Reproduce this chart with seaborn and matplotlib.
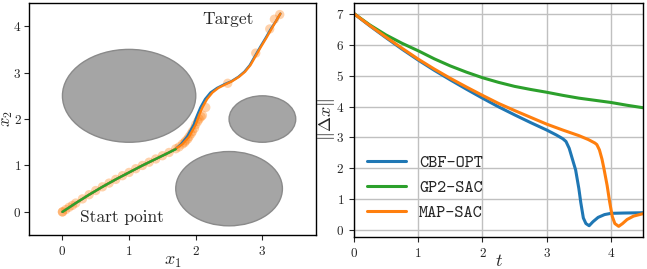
import numpy as np
import pandas as pd
import matplotlib
matplotlib.use("Agg")
import matplotlib.pyplot as plt
from matplotlib.patches import Ellipse
import seaborn as sns

# obstacles: centre x, centre y, radius
obs_x = [1.0, 2.5, 3.0]
obs_y = [2.5, 0.5, 2.0]
obs_r = [1.0, 0.8, 0.5]

# trajectories in the plane
traj_orange_x = [0.0, 0.2, 0.4, 0.6, 0.8, 1.0, 1.2, 1.4, 1.6, 1.7, 1.8, 1.9, 2.0, 2.05, 2.1,
                 2.17, 2.25, 2.34, 2.45, 2.54, 2.65, 2.74, 2.82, 2.9, 2.98, 3.06, 3.14, 3.2, 3.27]
traj_orange_y = [0.0, 0.19, 0.37, 0.54, 0.70, 0.85, 1.0, 1.14, 1.28, 1.36, 1.46, 1.62, 1.88, 2.08, 2.25,
                 2.43, 2.57, 2.67, 2.75, 2.81, 2.91, 3.02, 3.16, 3.36, 3.56, 3.75, 3.95, 4.1, 4.27]
traj_blue_x = [0.0, 0.2, 0.4, 0.6, 0.8, 1.0, 1.2, 1.4, 1.6, 1.7, 1.78, 1.87, 1.97, 2.02, 2.07,
               2.14, 2.22, 2.32, 2.43, 2.53, 2.64, 2.73, 2.81, 2.89, 2.97, 3.05, 3.13, 3.2, 3.27]
traj_blue_y = traj_orange_y
traj_green_x = [0.0, 0.2, 0.4, 0.6, 0.8, 1.0, 1.2, 1.4, 1.6, 1.7]
traj_green_y = [0.0, 0.19, 0.37, 0.54, 0.70, 0.85, 1.0, 1.14, 1.28, 1.35]

# sampled states (orange markers)
dots_x = [0.0, 0.0, 0.05, 0.1, 0.15, 0.2, 0.3, 0.4, 0.5, 0.6, 0.7, 0.8, 0.9, 1.0, 1.1, 1.2, 1.3,
          1.4, 1.5, 1.6, 1.7, 1.75, 1.8, 1.83, 1.85, 1.88, 1.9, 1.93, 1.95, 1.98, 2.0, 2.03, 2.05,
          2.08, 2.1, 2.15, 2.48, 2.9, 3.11, 3.18, 3.26]
dots_y = [0.0, 0.0, 0.05, 0.1, 0.14, 0.19, 0.28, 0.37, 0.46, 0.54, 0.62, 0.70, 0.78, 0.85, 0.93, 1.0, 1.07,
          1.14, 1.21, 1.28, 1.36, 1.40, 1.46, 1.49, 1.53, 1.57, 1.62, 1.68, 1.73, 1.80, 1.88, 1.95, 2.0,
          2.05, 2.08, 2.25, 2.77, 3.42, 3.94, 4.15, 4.25]

# distance to target over time
t_cbf = [0.0, 0.25, 0.5, 0.75, 1.0, 1.25, 1.5, 1.75, 2.0, 2.25, 2.5, 2.75, 3.0, 3.15, 3.25, 3.3,
         3.35, 3.4, 3.45, 3.5, 3.53, 3.57, 3.61, 3.66, 3.72, 3.8, 3.9, 4.0, 4.2, 4.5]
d_cbf = [7.0, 6.6, 6.22, 5.85, 5.50, 5.17, 4.86, 4.56, 4.27, 3.99, 3.73, 3.48, 3.24, 3.08, 2.96, 2.87,
         2.65, 2.3, 1.95, 1.35, 0.9, 0.4, 0.22, 0.15, 0.28, 0.42, 0.51, 0.55, 0.56, 0.57]
t_gp2 = [0.0, 0.25, 0.5, 0.75, 1.0, 1.25, 1.5, 1.75, 2.0, 2.25, 2.5, 2.75, 3.0, 3.25, 3.5, 3.75, 4.0, 4.25, 4.5]
d_gp2 = [7.0, 6.63, 6.31, 6.04, 5.80, 5.54, 5.31, 5.11, 4.93, 4.78, 4.65, 4.55, 4.46, 4.36, 4.27, 4.20, 4.13, 4.04, 3.96]
t_map = [0.0, 0.25, 0.5, 0.75, 1.0, 1.25, 1.5, 1.75, 2.0, 2.25, 2.5, 2.75, 3.0, 3.25, 3.5, 3.65, 3.75, 3.78,
         3.82, 3.86, 3.89, 3.94, 3.98, 4.02, 4.06, 4.12, 4.18, 4.25, 4.35, 4.5]
d_map = [7.0, 6.61, 6.24, 5.88, 5.53, 5.21, 4.91, 4.63, 4.36, 4.10, 3.87, 3.65, 3.43, 3.24, 3.06, 2.93, 2.82, 2.77,
         2.6, 2.3, 2.0, 1.45, 0.91, 0.45, 0.22, 0.13, 0.22, 0.35, 0.46, 0.54]

sns.set_style("ticks")
plt.rcParams["font.family"] = "serif"
plt.rcParams["font.serif"] = ["cmr10"]
plt.rcParams["mathtext.fontset"] = "cm"
plt.rcParams["axes.formatter.use_mathtext"] = True
plt.rcParams["axes.unicode_minus"] = False

fig = plt.figure(figsize=(6.47, 2.69), dpi=100)
ax1 = fig.add_axes([0.045, 0.126, 0.443, 0.863])
ax2 = fig.add_axes([0.547, 0.119, 0.447, 0.870])

blue, orange, green = "#1f77b4", "#ff7f0e", "#2ca02c"

# left: trajectories among obstacles
for cx, cy, r in zip(obs_x, obs_y, obs_r):
    ax1.add_patch(Ellipse((cx, cy), 2 * r, 2 * r, facecolor="#a5a5a5", edgecolor="#8a8a8a", lw=1))
sns.scatterplot(x=dots_x, y=dots_y, ax=ax1, color=orange, alpha=0.35, s=45, edgecolor="none", zorder=3)
sns.lineplot(x=traj_blue_x, y=traj_blue_y, ax=ax1, color=blue, lw=1.7, sort=False, estimator=None, zorder=4)
sns.lineplot(x=traj_orange_x, y=traj_orange_y, ax=ax1, color=orange, lw=1.7, sort=False, estimator=None, zorder=5)
sns.lineplot(x=traj_green_x, y=traj_green_y, ax=ax1, color=green, lw=1.7, sort=False, estimator=None, zorder=6)
ax1.text(2.49, 4.14, "Target", fontsize=12.5, ha="center", va="center")
ax1.text(0.9, -0.12, "Start point", fontsize=12.5, ha="center", va="center")
ax1.set_xlim(-0.5, 3.8)
ax1.set_ylim(-0.5, 4.5)
ax1.set_xticks([0, 1, 2, 3])
ax1.set_yticks([0, 1, 2, 3, 4])
ax1.set_xlabel("$x_1$", fontsize=13, labelpad=-2)
ax1.set_ylabel("$x_2$", fontsize=12, labelpad=-1)

# right: distance to target
df = pd.concat([
    pd.DataFrame({"t": t_cbf, "d": d_cbf, "method": "CBF-OPT"}),
    pd.DataFrame({"t": t_gp2, "d": d_gp2, "method": "GP2-SAC"}),
    pd.DataFrame({"t": t_map, "d": d_map, "method": "MAP-SAC"}),
])
sns.lineplot(data=df, x="t", y="d", hue="method", ax=ax2, lw=2.2, estimator=None, sort=False,
             palette={"CBF-OPT": blue, "GP2-SAC": green, "MAP-SAC": orange})
ax2.grid(True, color="#c0c0c0", lw=1)
ax2.set_xlim(0, 4.5)
ax2.set_xticks([0, 1, 2, 3, 4])
ax2.set_yticks(range(8))
ax2.set_xlabel("$t$", fontsize=13, labelpad=-5)
ax2.set_ylabel(r"$\|\Delta x\|$", fontsize=13, labelpad=-1)
ax2.legend(loc="lower left", bbox_to_anchor=(0.045, 0.07), frameon=False, handlelength=2.25,
           handletextpad=0.75, borderpad=0, borderaxespad=0,
           prop={"family": "cmtt10", "size": 12.5}, labelspacing=0.5)

for ax in (ax1, ax2):
    ax.tick_params(labelsize=9.5)
    for s in ax.spines.values():
        s.set_color("black")
        s.set_linewidth(1)
ax1.tick_params(axis="y", pad=2)

fig.savefig("out.png", dpi=100)
